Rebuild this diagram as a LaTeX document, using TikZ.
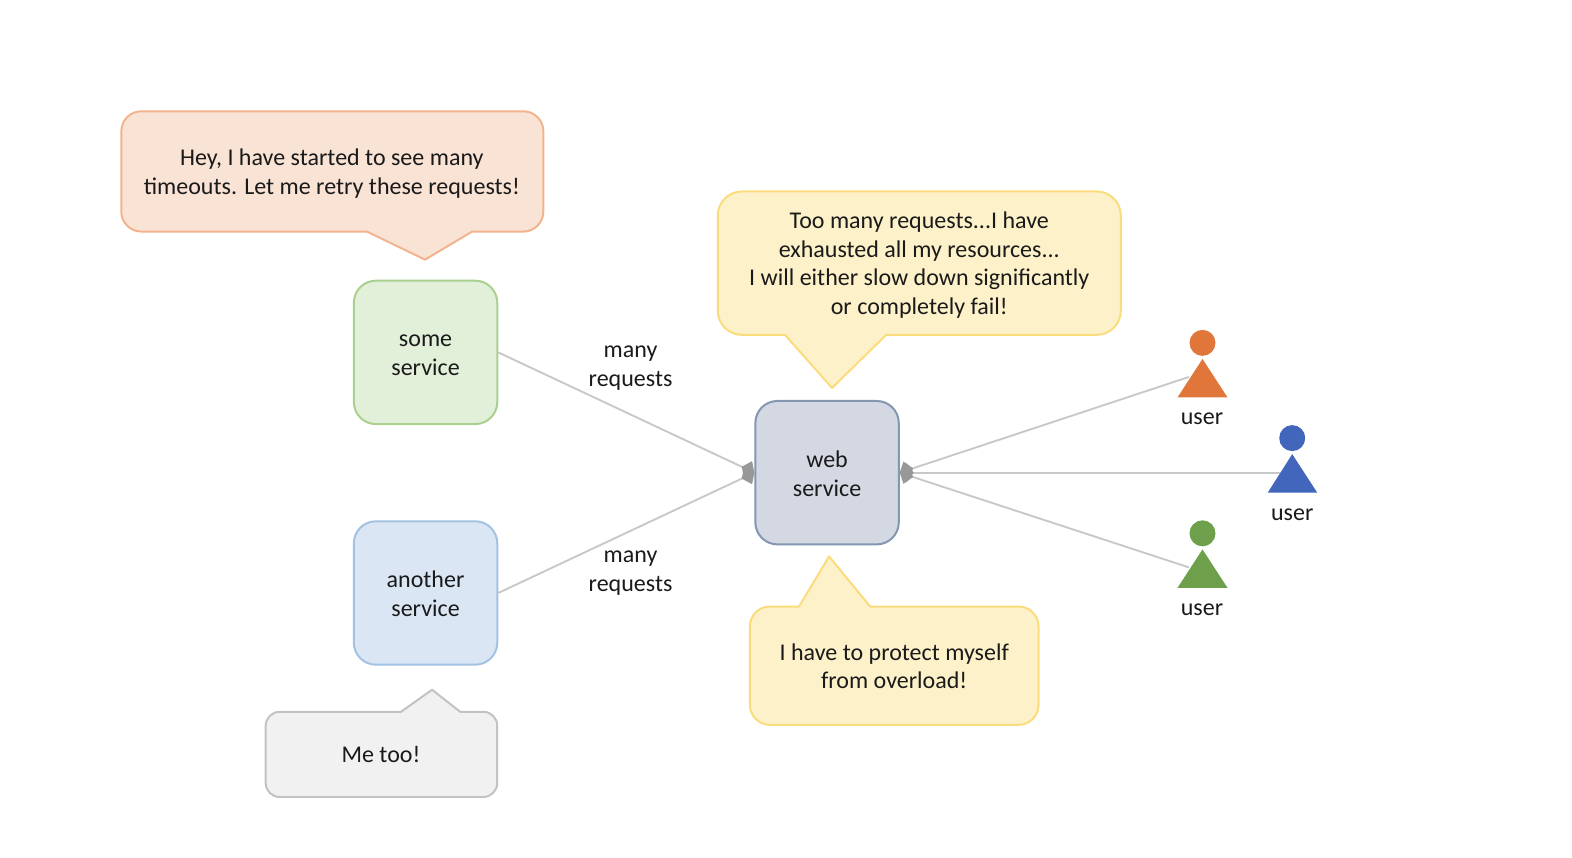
\documentclass[tikz,border=0pt]{standalone}
\usepackage{fontspec}
\setmainfont{Carlito}
\usetikzlibrary{arrows.meta}
\definecolor{peachF}{HTML}{F8E3D5}\definecolor{peachD}{HTML}{F2B48E}
\definecolor{greenF}{HTML}{E2EFD9}\definecolor{greenD}{HTML}{AAD08F}
\definecolor{blueF}{HTML}{DBE6F4}\definecolor{blueD}{HTML}{A3C2E2}
\definecolor{yelF}{HTML}{FDF1C9}\definecolor{yelD}{HTML}{FBDC7C}
\definecolor{grayF}{HTML}{F1F1F1}\definecolor{grayD}{HTML}{C2C2C2}
\definecolor{webF}{HTML}{D3D8E3}\definecolor{webD}{HTML}{8497B0}
\definecolor{orangeU}{HTML}{E0763A}\definecolor{blueU}{HTML}{4166BC}\definecolor{greenU}{HTML}{6EA04C}
\definecolor{linkC}{HTML}{C8C8C8}\definecolor{tipC}{HTML}{989898}\definecolor{txtC}{HTML}{1A1A1A}
\newcommand{\lblfont}{\fontsize{24.1}{29}\selectfont}
\tikzset{
  x=1.0025bp,y=-1.0025bp,
  striph/.style={execute at begin node={\rule{0pt}{#1}}},
  lbl/.style={align=center,text=txtC,font=\lblfont,inner sep=0pt,striph=34pt,
    execute at end node={\rule[-7pt]{0pt}{7pt}}},
  servicebox/.style={lbl,draw,line width=2pt,rounded corners=22bp,minimum width=143.4bp,minimum height=143.4bp,striph=54pt},
  calloutshape/.style={line width=2pt,line join=round},
  link/.style={draw=linkC,line width=1.9pt},
  tipped/.style={link,-{Diamond[color=tipC,fill=tipC,length=14pt,width=19pt,line width=0pt]}},
  person/.style={circle,minimum size=26bp,inner sep=0pt}
}
\begin{document}
\begin{tikzpicture}
\useasboundingbox (0,0) rectangle (1568.08,855.86);
% callouts
\filldraw[calloutshape,fill=peachF,draw=peachD] (471,231) [rounded corners=20bp] -- (542,231) -- (542,111) -- (121,111) -- (121,231) [sharp corners] -- (366,231) -- (424,259) -- cycle;
\node[lbl] (c1) at (331,174.5) {Hey, I have started to see many\\timeouts. Let me retry these requests!};
\filldraw[calloutshape,fill=yelF,draw=yelD] (884,334) [rounded corners=24bp] -- (1118,334) -- (1118,191) -- (716,191) -- (716,334) [sharp corners] -- (783,334) -- (830,387) -- cycle;
\node[lbl] (c2) at (917,266) {Too many requests...I have\\exhausted all my resources...\\I will either slow down significantly\\or completely fail!};
\filldraw[calloutshape,fill=yelF,draw=yelD] (797,605) [rounded corners=20bp] -- (748,605) -- (748,723) -- (1036,723) -- (1036,605) [sharp corners] -- (868,605) -- (827,555) -- cycle;
\node[lbl] (c3) at (892,668) {I have to protect myself\\from overload!};
\filldraw[calloutshape,fill=grayF,draw=grayD] (400,710) [rounded corners=14bp] -- (265,710) -- (265,795) -- (496,795) -- (496,710) [sharp corners] -- (459,710) -- (431,688) -- cycle;
\node[lbl] (c4) at (380,747.5) {Me too!};
% services
\node[servicebox,fill=greenF,draw=greenD] (some) at (424.5,351.5) {some\\service};
\node[servicebox,fill=blueF,draw=blueD] (another) at (424.5,591.5) {another\\service};
\node[servicebox,fill=webF,draw=webD] (web) at (825,471.5) {web\\service};
% users
\node[person,fill=orangeU] (h1) at (1199.5,342) {};
\node[person,fill=blueU] (h2) at (1289,437) {};
\node[person,fill=greenU] (h3) at (1199.5,532) {};
\fill[orangeU] (1199.5,358) -- (1224.5,396.5) -- (1174.5,396.5) -- cycle;
\fill[blueU] (1289,453) -- (1314,491.5) -- (1264.5,491.5) -- cycle;
\fill[greenU] (1199.5,548) -- (1224.5,586.5) -- (1174.5,586.5) -- cycle;
\coordinate (u1) at (1186,376);
\coordinate (u2) at (1277,471.5);
\coordinate (u3) at (1186,566);
\node[lbl] (n1) at (1199,410) {user};
\node[lbl] (n2) at (1289,506) {user};
\node[lbl] (n3) at (1199,601) {user};
% connectors
\draw[tipped] (some.east) -- (web.west);
\draw[tipped] (another.east) -- (web.west);
\draw[tipped] (u1) -- (web.east);
\draw[tipped] (u2) -- (web.east);
\draw[tipped] (u3) -- (web.east);
\node[lbl] (m1) at (629,368.5) {many\\requests};
\node[lbl] (m2) at (629,573.5) {many\\requests};
\end{tikzpicture}
\end{document}
